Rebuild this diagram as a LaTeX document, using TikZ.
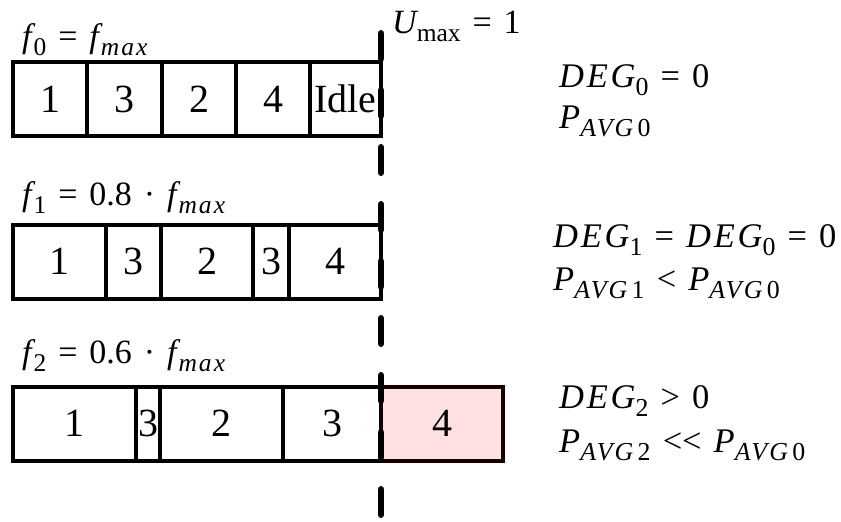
\documentclass[tikz,border=0pt]{standalone}
\usepackage{graphicx}
\usepackage{fontspec}
\setmainfont{Liberation Serif}
\definecolor{pinkfill}{RGB}{255,224,227}
\definecolor{darkedge}{RGB}{25,0,0}
\newcommand{\mv}[1]{{\itshape\addfontfeatures{LetterSpace=8}#1}}
\newcommand{\sbs}[1]{\raisebox{-0.24em}{\scalebox{0.75}{#1}}}
\newcommand{\isb}[1]{\sbs{\mv{#1}}}
\newcommand{\rel}[1]{\hspace{0.35em}#1\hspace{0.35em}}
\newcommand{\fk}{\hspace{0.06em}}
\tikzset{
  cell/.style={draw, line width=4pt, inner sep=0pt, minimum height=74pt, font=\fontsize{40}{48}\selectfont},
  lbl/.style={anchor=base west, inner sep=0pt, font=\fontsize{34}{40}\selectfont},
  rtxt/.style={anchor=base west, inner sep=0pt, font=\fontsize{34.5}{42}\selectfont},
  ubound/.style={line width=6.5pt, line cap=round, dash pattern=on 25.5pt off 31.5pt}
}
\begin{document}
\begin{tikzpicture}[x=1pt,y=-1pt]
\useasboundingbox (0,0) rectangle (841,522);
% row 0
\node[cell, minimum width=74pt] (a1) at (50,99) {1};
\node[cell, minimum width=75pt] (a2) at (124.5,99) {3};
\node[cell, minimum width=74pt] (a3) at (199,99) {2};
\node[cell, minimum width=74pt] (a4) at (273,99) {4};
\node[cell, minimum width=71pt] (a5) at (345.5,99) {Idle};
% row 1
\node[cell, minimum width=93pt] (b1) at (59.5,261.5) {1};
\node[cell, minimum width=55pt] (b2) at (133.5,261.5) {3};
\node[cell, minimum width=92pt] (b3) at (207,261.5) {2};
\node[cell, minimum width=36pt] (b4) at (271,261.5) {3};
\node[cell, minimum width=92pt] (b5) at (335,261.5) {4};
% row 2
\node[cell, minimum width=123pt] (c1) at (74.5,423.5) {1};
\node[cell, minimum width=24pt] (c2) at (148,423.5) {3};
\node[cell, minimum width=123pt] (c3) at (221.5,423.5) {2};
\node[cell, minimum width=98pt] (c4) at (332,423.5) {3};
\node[cell, minimum width=122pt, fill=pinkfill, draw=darkedge] (c5) at (442,423.5) {4};
% row labels
\node[lbl] (l0) at (22,47) {\mv{f}\fk\sbs{0}\rel{=}\mv{f}\fk\isb{max}};
\node[lbl] (l1) at (22,205) {\mv{f}\fk\sbs{1}\rel{=}0.8\rel{·}\mv{f}\fk\isb{max}};
\node[lbl] (l2) at (22,363) {\mv{f}\fk\sbs{2}\rel{=}0.6\rel{·}\mv{f}\fk\isb{max}};
% utilisation bound
\coordinate (utop) at (381,33.25);
\coordinate (ubot) at (381,518.75);
\draw[ubound] (utop) -- (ubot);
\node[lbl] (ulab) at (392,33) {\mv{U}\sbs{max}\rel{=}1};
% right-hand texts
\node[rtxt] (d0) at (559,87) {\mv{DEG}\sbs{0}\rel{=}0};
\node[rtxt] (p0) at (559,128) {\mv{P}\isb{AVG\,}\sbs{0}};
\node[rtxt] (d1) at (553,247) {\mv{DEG}\sbs{1}\rel{=}\mv{DEG}\sbs{0}\rel{=}0};
\node[rtxt] (p1) at (553,290) {\mv{P}\isb{AVG\,}\sbs{1}\rel{<}\mv{P}\isb{AVG\,}\sbs{0}};
\node[rtxt] (d2) at (559,408) {\mv{DEG}\sbs{2}\rel{>}0};
\node[rtxt] (p2) at (559,452) {\mv{P}\isb{AVG\,}\sbs{2}\rel{<{}<}\mv{P}\isb{AVG\,}\sbs{0}};
\end{tikzpicture}
\end{document}
